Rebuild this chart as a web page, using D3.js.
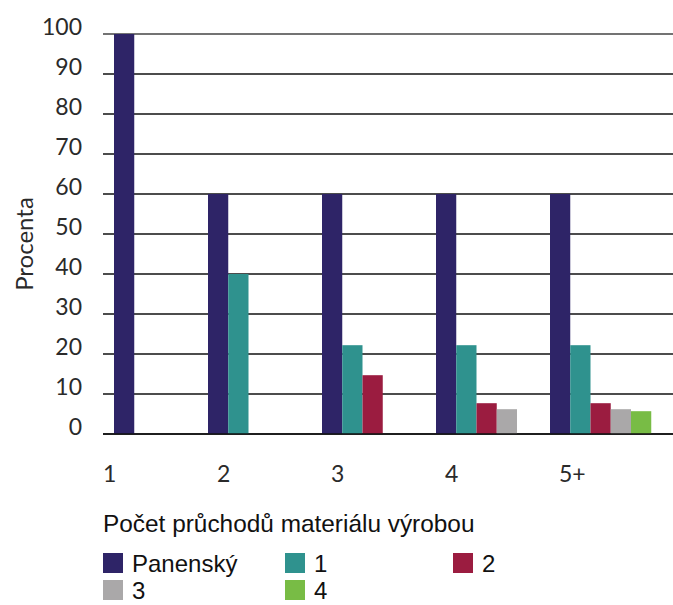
<!DOCTYPE html>
<html>
<head>
<meta charset="utf-8">
<script src="https://cdn.jsdelivr.net/npm/d3@7"></script>
<style>
  html, body { margin: 0; padding: 0; background: #fff; }
  svg { display: block; }
  .tick-label { font-family: Lato, "Open Sans", sans-serif; font-weight: 400; fill: #2a2a2a; }
  .legend-text { font-family: "Liberation Sans", Arial, sans-serif; fill: #111; }
</style>
</head>
<body>
<svg id="chart" width="673" height="605"></svg>
<script>
// ---- data ----
const categories = ["1", "2", "3", "4", "5+"];
const seriesNames = ["Panenský", "1", "2", "3", "4"];
const panensky = [100, 60, 60, 60, 60];
const s1 = [null, 40, 22.2, 22.2, 22.2];
const s2 = [null, null, 14.7, 7.7, 7.7];
const s3 = [null, null, null, 6.2, 6.2];
const s4 = [null, null, null, null, 5.7];
const yTicks = [0, 10, 20, 30, 40, 50, 60, 70, 80, 90, 100];
const yTitle = "Procenta";
const legendTitle = "Počet průchodů materiálu výrobou";
const colors = ["#2e2467", "#2f928e", "#9b1c40", "#aaa8a9", "#78bc45"];

const seriesValues = [panensky, s1, s2, s3, s4];

// ---- layout ----
const svg = d3.select("#chart");
const plotLeft = 103, plotRight = 673, plotTop = 34, plotBottom = 434;

const y = d3.scaleLinear().domain([0, 100]).range([plotBottom, plotTop]);
const x = d3.scaleBand().domain(categories).range([plotLeft, plotRight]);
const xSub = d3.scaleBand().domain(seriesNames).range([0, 101.25]);

// gridlines
svg.append("g").selectAll("line").data(yTicks).join("line")
  .attr("x1", plotLeft).attr("x2", plotRight)
  .attr("y1", d => y(d)).attr("y2", d => y(d))
  .attr("stroke", d => d === 100 ? "#444" : "#111")
  .attr("stroke-width", 1.6);

// y tick labels
svg.append("g").selectAll("text").data(yTicks).join("text")
  .attr("class", "tick-label")
  .attr("x", 82).attr("y", d => y(d) + 1)
  .attr("text-anchor", "end")
  .attr("font-size", 23)
  .text(d => d);

// y title
svg.append("text")
  .attr("class", "tick-label")
  .attr("transform", `translate(33,244) rotate(-90)`)
  .attr("text-anchor", "middle")
  .attr("font-size", 24)
  .text(yTitle);

// bars
const groupStart = c => Math.max(x(c) - 9, plotLeft + 11);
const barData = [];
categories.forEach((c, ci) => {
  seriesNames.forEach((s, si) => {
    const v = seriesValues[si][ci];
    if (v != null) barData.push({ c, s, si, v });
  });
});
svg.append("g").selectAll("rect").data(barData).join("rect")
  .attr("x", d => groupStart(d.c) + xSub(d.s))
  .attr("width", xSub.bandwidth())
  .attr("y", d => y(d.v))
  .attr("height", d => y(0) - y(d.v))
  .attr("fill", d => colors[d.si]);

// baseline on top
svg.append("line")
  .attr("x1", plotLeft).attr("x2", plotRight)
  .attr("y1", y(0)).attr("y2", y(0))
  .attr("stroke", "#111").attr("stroke-width", 1.6);

// x labels
svg.append("g").selectAll("text").data(categories).join("text")
  .attr("class", "tick-label")
  .attr("x", d => x(d))
  .attr("y", 482)
  .attr("font-size", 23)
  .text(d => d);

// legend
svg.append("text")
  .attr("class", "legend-text")
  .attr("x", 103).attr("y", 532)
  .attr("font-size", 24.4)
  .text(legendTitle);

const legCols = [103, 285, 453];
const legRows = [553, 580];
const legItems = svg.append("g").selectAll("g").data(seriesNames).join("g")
  .attr("transform", (d, i) => `translate(${legCols[i % 3]},${legRows[Math.floor(i / 3)]})`);
legItems.append("rect")
  .attr("width", 20).attr("height", 20)
  .attr("fill", (d, i) => colors[i]);
legItems.append("text")
  .attr("class", "legend-text")
  .attr("x", 29).attr("y", 19)
  .attr("font-size", 24)
  .text(d => d);
</script>
</body>
</html>
